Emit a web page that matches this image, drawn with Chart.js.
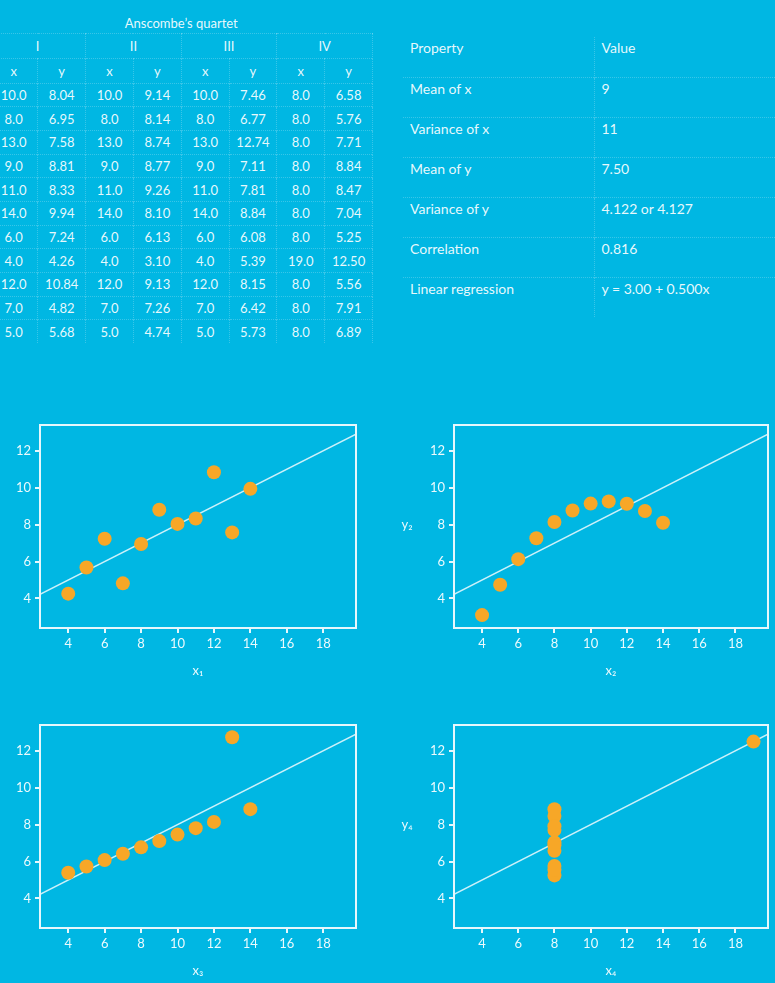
<!DOCTYPE html>
<html>
<head>
<meta charset="utf-8">
<script src="https://cdn.jsdelivr.net/npm/chart.js@4.4.1/dist/chart.umd.min.js"></script>
<style>
  html, body { margin: 0; padding: 0; }
  body {
    width: 775px; height: 983px; overflow: hidden; position: relative;
    background: #00b7e3; color: rgba(255,255,255,0.92);
    font-family: Lato, "Noto Sans", sans-serif;
  }
  table { position: absolute; border-collapse: collapse; table-layout: fixed; }
  td { padding: 0; border: 0 dotted rgba(255,255,255,0.22); }
  #quartet { left: -10px; top: 0; width: 383px; font-size: 13px; }
  #quartet td { text-align: center; height: 22.7px; border-top-width: 1px; border-right-width: 1px; vertical-align: middle; line-height: 16px; }
  #quartet tr.title td { height: 33px; border-top-width: 0; border-right-width: 0; vertical-align: bottom; padding-bottom: 2px; box-sizing: border-box; }
  #quartet tr.head td { height: 24px; }
  #stats { left: 403px; top: 37px; width: 372px; font-size: 14px; }
  #stats td { height: 40px; vertical-align: top; padding: 3px 0 0 7px; line-height: 16px; box-sizing: border-box; }
  #stats tr + tr td { border-top-width: 1px; }
  #stats td + td { border-left-width: 1px; }
  .chart { position: absolute; }
</style>
</head>
<body>
<table id="quartet"></table>
<table id="stats"></table>

<div class="chart" style="left:0;top:410px;width:370px;height:273px"><canvas id="c1"></canvas></div>
<div class="chart" style="left:390px;top:410px;width:385px;height:273px"><canvas id="c2"></canvas></div>
<div class="chart" style="left:0;top:710px;width:370px;height:273px"><canvas id="c3"></canvas></div>
<div class="chart" style="left:390px;top:710px;width:385px;height:273px"><canvas id="c4"></canvas></div>

<script>
// Anscombe's quartet data
const x123 = [10, 8, 13, 9, 11, 14, 6, 4, 12, 7, 5];
const x4 = [8, 8, 8, 8, 8, 8, 8, 19, 8, 8, 8];
const y1 = [8.04, 6.95, 7.58, 8.81, 8.33, 9.94, 7.24, 4.26, 10.84, 4.82, 5.68];
const y2 = [9.14, 8.14, 8.74, 8.77, 9.26, 8.10, 6.13, 3.10, 9.13, 7.26, 4.74];
const y3 = [7.46, 6.77, 12.74, 7.11, 7.81, 8.84, 6.08, 5.39, 8.15, 6.42, 5.73];
const y4 = [6.58, 5.76, 7.71, 8.84, 8.47, 7.04, 5.25, 12.50, 5.56, 7.91, 6.89];

const groupNames = ["I", "II", "III", "IV"];
const properties = ["Mean of x", "Variance of x", "Mean of y", "Variance of y", "Correlation", "Linear regression"];
const propValues = ["9", "11", "7.50", "4.122 or 4.127", "0.816", "y = 3.00 + 0.500x"];

// regression line y = a + b*x
const intercept = 3.00;
const slope = 0.500;

const xTicks = [4, 6, 8, 10, 12, 14, 16, 18];
const yTicks = [4, 6, 8, 10, 12];
const xRange = [2.45, 19.8];
const yRange = [2.4, 13.4];

const sets = [
  { id: "c1", x: x123, y: y1, n: "₁", yLabel: null },
  { id: "c2", x: x123, y: y2, n: "₂", yLabel: "y₂" },
  { id: "c3", x: x123, y: y3, n: "₃", yLabel: null },
  { id: "c4", x: x4, y: y4, n: "₄", yLabel: "y₄" },
];

const textColor = "rgba(255,255,255,0.92)";
const frameColor = "#e6f7fc";
const dotColor = "#f7a727";

// Build the data table
function buildTables() {
  const cols = [[x123, y1], [x123, y2], [x123, y3], [x4, y4]];
  let html = '<tr class="title"><td colspan="8">Anscombe’s quartet</td></tr>';
  html += '<tr class="head">' + groupNames.map(g => `<td colspan="2">${g}</td>`).join("") + "</tr>";
  html += '<tr class="head">' + groupNames.map(() => "<td>x</td><td>y</td>").join("") + "</tr>";
  for (let i = 0; i < x123.length; i++) {
    html += "<tr>" + cols.map(([xs, ys]) => `<td>${xs[i].toFixed(1)}</td><td>${ys[i].toFixed(2)}</td>`).join("") + "</tr>";
  }
  document.getElementById("quartet").innerHTML = html;

  let s = '<colgroup><col style="width:191px"><col></colgroup><tr><td>Property</td><td>Value</td></tr>';
  properties.forEach((p, i) => { s += `<tr><td>${p}</td><td>${propValues[i]}</td></tr>`; });
  document.getElementById("stats").innerHTML = s;
}
buildTables();

// Frame around the plot area and a horizontal y label
const framePlugin = {
  id: "frame",
  afterDatasetsDraw(chart, args, opts) {
    const { ctx, chartArea: a } = chart;
    ctx.save();
    ctx.strokeStyle = frameColor;
    ctx.lineWidth = 2;
    ctx.strokeRect(a.left, a.top, a.right - a.left, a.bottom - a.top);
    if (opts.yLabel) {
      ctx.fillStyle = textColor;
      ctx.font = "13px Lato, 'Noto Sans', sans-serif";
      ctx.textAlign = "center";
      ctx.textBaseline = "middle";
      ctx.fillText(opts.yLabel, 17, (a.top + a.bottom) / 2 - 2);
    }
    ctx.restore();
  },
};

const tickFont = { family: "Lato, 'Noto Sans', sans-serif", size: 13 };

sets.forEach(set => {
  const points = set.x.map((x, i) => ({ x: x, y: set.y[i] }));
  const fit = xRange.map(x => ({ x: x, y: intercept + slope * x }));
  const axisWidth = set.yLabel ? 64 : 40;

  new Chart(document.getElementById(set.id), {
    type: "scatter",
    data: {
      datasets: [
        {
          data: points,
          backgroundColor: dotColor,
          borderWidth: 0,
          pointRadius: 7,
          pointHoverRadius: 7,
          order: 0,
        },
        {
          type: "line",
          data: fit,
          borderColor: "rgba(255,255,255,0.8)",
          borderWidth: 1.5,
          pointRadius: 0,
          fill: false,
          order: 1,
        },
      ],
    },
    options: {
      responsive: true,
      maintainAspectRatio: false,
      animation: false,
      layout: { padding: { top: 15, right: set.yLabel ? 5 : 14, left: 0, bottom: 0 } },
      plugins: {
        legend: { display: false },
        tooltip: { enabled: false },
        frame: { yLabel: set.yLabel },
      },
      scales: {
        x: {
          type: "linear",
          min: xRange[0],
          max: xRange[1],
          afterBuildTicks: s => { s.ticks = xTicks.map(v => ({ value: v })); },
          afterFit: s => { s.height = 55; },
          grid: { drawOnChartArea: false, tickLength: 5, color: frameColor, lineWidth: 2 },
          border: { display: false },
          ticks: { color: textColor, font: tickFont, padding: 3 },
          title: { display: true, text: "x" + set.n, color: textColor, font: tickFont, padding: { top: 0, bottom: 4 } },
        },
        y: {
          min: yRange[0],
          max: yRange[1],
          afterBuildTicks: s => { s.ticks = yTicks.map(v => ({ value: v })); },
          afterFit: s => { s.width = axisWidth; },
          grid: { drawOnChartArea: false, tickLength: 5, color: frameColor, lineWidth: 2 },
          border: { display: false },
          ticks: { color: textColor, font: tickFont, padding: 4 },
        },
      },
    },
    plugins: [framePlugin],
  });
});
</script>
</body>
</html>
